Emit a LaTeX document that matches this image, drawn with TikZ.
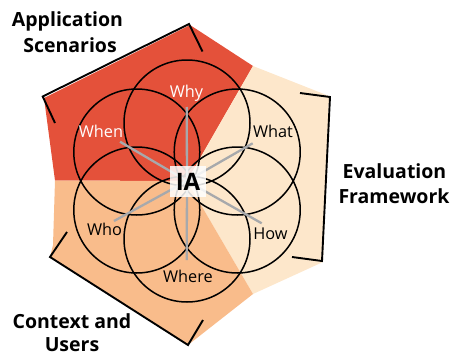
\documentclass[tikz,border=0pt]{standalone}
\usepackage{fontspec}
\setmainfont{Open Sans}
\usetikzlibrary{calc}
\definecolor{redA}{RGB}{228,81,58}
\definecolor{orangeA}{RGB}{249,188,139}
\definecolor{peachA}{RGB}{253,231,203}
\definecolor{grayA}{RGB}{167,169,172}
\tikzset{
  petal/.style={draw=black, line width=1.5pt},
  ray/.style={draw=grayA, line width=2.3pt},
  brk/.style={draw=black, line width=1.9pt},
  lbl/.style={inner sep=0pt, anchor=base, font=\fontsize{16.3}{16.3}\selectfont},
  title/.style={inner sep=0pt, anchor=base, font=\bfseries\fontsize{19.5}{19.5}\selectfont},
}
\begin{document}
\begin{tikzpicture}[x=1pt,y=-1pt]
\useasboundingbox (0,0) rectangle (452,356);
\coordinate (c) at (187,181);
% sectors
\fill[redA] (c) -- (55,180.5) -- (44,98) -- (190,25) -- (253,66) -- cycle;
\fill[peachA] (c) -- (253,66) -- (329,96) -- (323,262) -- (253,294) -- cycle;
\fill[orangeA] (c) -- (253,294) -- (188,345) -- (50,257) -- (53,245) -- (55,180.5) -- cycle;
% circles
\foreach \a in {30,90,150,210,270,330}
  \draw[petal] ($(c)+(\a:58)$) circle[radius=63];
% rays
\coordinate (eWhy) at (186.7,107);
\coordinate (eWhat) at (252.7,143.3);
\coordinate (eHow) at (261.7,223.3);
\coordinate (eWhere) at (186.7,260);
\coordinate (eWho) at (114,221);
\coordinate (eWhen) at (120,141.7);
\foreach \e in {eWhy,eWhat,eHow,eWhere,eWho,eWhen}
  \draw[ray] (c) -- (\e);
% centre
\node[fill=white, fill opacity=0.85, text opacity=1, minimum width=36pt, minimum height=31pt, inner sep=0pt,
      font=\bfseries\fontsize{24}{24}\selectfont] (ia) at (188,181.5) {IA};
% labels
\node[lbl, text=white] (why) at (186.5,97.5) {Why};
\node[lbl] (what) at (273,137) {What};
\node[lbl] (how) at (270.5,239) {How};
\node[lbl] (where) at (188,282) {Where};
\node[lbl] (who) at (104.5,235) {Who};
\node[lbl, text=white] (when) at (101,137) {When};
% brackets
\draw[brk] (55,123) -- (42.7,96.5) -- (189,24) -- (202.5,51.5);
\draw[brk] (300,93) -- (330,97) -- (322,261) -- (292,257);
\draw[brk] (67,232) -- (50,257) -- (188,345) -- (203,320);
% titles
\node[title] (app1) at (67.5,27) {Application};
\node[title] (app2) at (70,52) {Scenarios};
\node[title] (eva1) at (394.5,178) {Evaluation};
\node[title] (eva2) at (394,203) {Framework};
\node[title] (ctx1) at (72,328) {Context and};
\node[title] (ctx2) at (72,351.5) {Users};
\end{tikzpicture}
\end{document}
